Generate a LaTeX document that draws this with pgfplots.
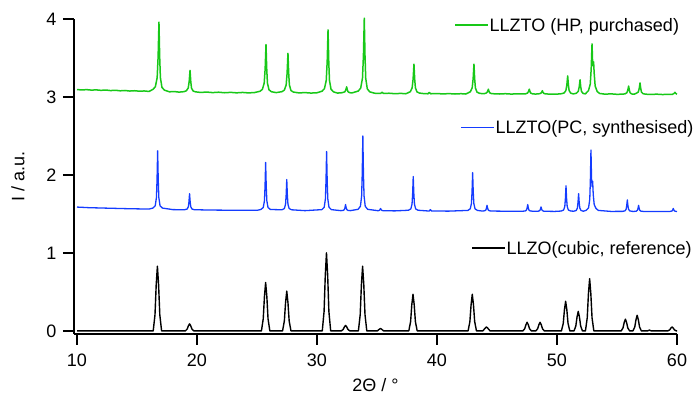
\documentclass[border=0pt]{standalone}
\usepackage{fontspec}
\setmainfont{Liberation Sans}
\usepackage{pgfplots}
\pgfplotsset{compat=1.18}
\definecolor{xgreen}{RGB}{24,200,24}
\definecolor{xblue}{RGB}{20,60,255}
\newcommand{\lf}{\fontsize{18}{21}\selectfont}
\begin{document}
\begin{tikzpicture}
\path (0,0) rectangle (697pt,396pt);
\begin{axis}[
 at={(74pt,62pt)}, anchor=south west,
 scale only axis, width=603pt, height=315pt,
 xmin=9.75, xmax=60, ymin=-0.04, ymax=4,
 clip=false,
 axis x line=bottom, axis y line=left,
 axis line style={-, line width=1.6pt},
 tick style={black, line width=1.4pt},
 tick align=outside, major tick length=11pt,
 xtick={10,20,...,60}, ytick={0,1,2,3,4},
 minor tick num=0,
 tick label style={font=\lf},
 /pgf/number format/assume math mode=true,
 xticklabel style={yshift=-5pt},
 yticklabel style={xshift=-3pt},
 xlabel={2Θ / °}, ylabel={I / a.u.},
 label style={font=\lf},
 xlabel style={at={(axis description cs:0.5,-0.181)}, anchor=base},
 ylabel style={at={(axis description cs:-0.0929,0.5)}, anchor=center},
]
\addplot[black, line width=1.4pt, line join=round] coordinates {
(10,0)
(16.35,0)(16.50,0.208)(16.60,0.589)(16.70,0.83)(16.80,0.589)(16.90,0.208)(17.05,0)
(19.03,0)(19.18,0.023)(19.28,0.064)(19.38,0.09)(19.48,0.064)(19.58,0.023)(19.73,0)
(25.37,0)(25.52,0.155)(25.62,0.440)(25.72,0.62)(25.82,0.440)(25.92,0.155)(26.07,0)
(27.13,0)(27.28,0.128)(27.38,0.362)(27.48,0.51)(27.58,0.362)(27.68,0.128)(27.83,0)
(30.44,0)(30.59,0.25)(30.69,0.71)(30.79,1.00)(30.89,0.71)(30.99,0.25)(31.14,0)
(32.03,0)(32.18,0.018)(32.28,0.050)(32.38,0.07)(32.48,0.050)(32.58,0.018)(32.73,0)
(33.45,0)(33.60,0.208)(33.70,0.589)(33.80,0.83)(33.90,0.589)(34.00,0.208)(34.15,0)
(35.04,0)(35.19,0.021)(35.29,0.03)(35.39,0.021)(35.54,0)
(37.65,0)(37.80,0.118)(37.90,0.334)(38.00,0.47)(38.10,0.334)(38.20,0.118)(38.35,0)
(42.59,0)(42.74,0.118)(42.84,0.334)(42.94,0.47)(43.04,0.334)(43.14,0.118)(43.29,0)
(43.82,0)(44.02,0.036)(44.12,0.05)(44.22,0.036)(44.42,0)
(47.16,0)(47.31,0.028)(47.41,0.078)(47.51,0.11)(47.61,0.078)(47.71,0.028)(47.86,0)
(48.24,0)(48.39,0.028)(48.49,0.078)(48.59,0.11)(48.69,0.078)(48.79,0.028)(48.94,0)
(50.37,0)(50.52,0.095)(50.62,0.270)(50.72,0.38)(50.82,0.270)(50.92,0.095)(51.07,0)
(51.42,0)(51.57,0.063)(51.67,0.178)(51.77,0.25)(51.87,0.178)(51.97,0.063)(52.12,0)
(52.37,0)(52.52,0.168)(52.62,0.476)(52.72,0.67)(52.82,0.476)(52.92,0.168)(53.07,0)
(55.35,0)(55.50,0.038)(55.60,0.107)(55.70,0.15)(55.80,0.107)(55.90,0.038)(56.05,0)
(56.33,0)(56.48,0.05)(56.58,0.142)(56.68,0.20)(56.78,0.142)(56.88,0.05)(57.03,0)
(57.55,0)(57.70,0.01)(57.85,0)
(59.24,0)(59.39,0.013)(59.49,0.036)(59.59,0.05)(59.69,0.036)(59.79,0.013)(59.94,0)
(60,0)
};
\addplot[xblue, line width=1.3pt, line join=round] coordinates {
(10.0,1.588)(11,1.58)(12,1.576)(13,1.572)(14,1.568)(15,1.565)(16,1.562)
(16.32,1.575)(16.52,1.605)(16.62,1.71)(16.67,1.935)(16.72,2.31)(16.77,1.935)(16.82,1.71)(16.92,1.605)(17.12,1.575)
(18,1.555)
(18.98,1.554)(19.18,1.563)(19.28,1.592)(19.33,1.655)(19.38,1.76)(19.43,1.655)(19.48,1.592)(19.58,1.563)(19.78,1.554)
(21,1.55)(23,1.547)(25,1.546)
(25.32,1.557)(25.52,1.582)(25.62,1.668)(25.67,1.853)(25.72,2.16)(25.77,1.853)(25.82,1.668)(25.92,1.582)(26.12,1.557)
(27.08,1.553)(27.28,1.569)(27.38,1.624)(27.43,1.743)(27.48,1.94)(27.53,1.743)(27.58,1.624)(27.68,1.569)(27.88,1.553)
(29,1.542)
(30.40,1.555)(30.60,1.586)(30.70,1.692)(30.75,1.92)(30.80,2.30)(30.85,1.92)(30.90,1.692)(31.00,1.586)(31.20,1.555)
(31.98,1.542)(32.18,1.545)(32.28,1.556)(32.33,1.58)(32.38,1.62)(32.43,1.58)(32.48,1.556)(32.58,1.545)(32.78,1.542)
(33.42,1.559)(33.62,1.598)(33.72,1.732)(33.77,2.02)(33.82,2.50)(33.87,2.02)(33.92,1.732)(34.02,1.598)(34.22,1.559)
(35.10,1.541)(35.20,1.546)(35.25,1.555)(35.30,1.57)(35.35,1.555)(35.40,1.546)(35.50,1.541)
(36.5,1.539)
(37.62,1.547)(37.82,1.565)(37.92,1.626)(37.97,1.759)(38.02,1.98)(38.07,1.759)(38.12,1.626)(38.22,1.565)(38.42,1.547)
(39.35,1.537)(39.45,1.555)(39.55,1.537)
(41,1.536)
(42.57,1.545)(42.77,1.565)(42.87,1.634)(42.92,1.783)(42.97,2.03)(43.02,1.783)(43.07,1.634)(43.17,1.565)(43.37,1.545)
(43.77,1.537)(43.97,1.54)(44.07,1.55)(44.12,1.573)(44.17,1.61)(44.22,1.573)(44.27,1.55)(44.37,1.54)(44.57,1.537)
(46,1.534)
(47.16,1.535)(47.36,1.538)(47.46,1.55)(47.51,1.577)(47.56,1.62)(47.61,1.577)(47.66,1.55)(47.76,1.538)(47.96,1.535)
(48.27,1.534)(48.47,1.536)(48.57,1.544)(48.62,1.562)(48.67,1.59)(48.72,1.562)(48.77,1.544)(48.87,1.536)(49.07,1.534)
(49.8,1.532)
(50.35,1.537)(50.55,1.55)(50.65,1.596)(50.70,1.695)(50.75,1.86)(50.80,1.695)(50.85,1.596)(50.95,1.55)(51.15,1.537)
(51.40,1.535)(51.60,1.544)(51.70,1.576)(51.75,1.645)(51.80,1.76)(51.85,1.645)(51.90,1.576)(52.00,1.544)(52.20,1.535)
(52.43,1.546)(52.63,1.577)(52.73,1.688)(52.78,1.925)(52.83,2.32)(52.88,1.95)(52.93,1.85)(52.97,1.92)(53.02,1.75)(53.10,1.62)(53.25,1.57)(53.45,1.545)
(54.5,1.532)
(55.46,1.533)(55.66,1.539)(55.76,1.56)(55.81,1.605)(55.86,1.68)(55.91,1.605)(55.96,1.56)(56.06,1.539)(56.26,1.533)
(56.40,1.532)(56.60,1.535)(56.70,1.546)(56.75,1.57)(56.80,1.61)(56.85,1.57)(56.90,1.546)(57.00,1.535)(57.20,1.532)
(58.5,1.53)
(59.39,1.531)(59.59,1.538)(59.64,1.55)(59.69,1.57)(59.74,1.55)(59.79,1.538)(59.95,1.531)(60,1.53)
};
\addplot[xgreen, line width=1.5pt, line join=round] coordinates {
(10,3.095)(10.4,3.09)(10.8,3.094)(11.2,3.088)(11.6,3.091)(12,3.085)(12.4,3.089)(12.8,3.082)(13.2,3.086)(13.6,3.079)(14,3.083)(14.4,3.076)(14.8,3.08)(15.2,3.074)(15.6,3.077)(16,3.071)
(16.33,3.097)(16.53,3.132)(16.68,3.248)(16.76,3.515)(16.83,3.96)(16.89,3.515)(16.95,3.248)(17.08,3.123)(17.28,3.088)
(17.7,3.066)(18.1,3.07)(18.5,3.062)
(18.92,3.068)(19.12,3.08)(19.27,3.116)(19.35,3.20)(19.42,3.34)(19.48,3.20)(19.54,3.116)(19.67,3.077)(19.87,3.066)
(20.3,3.058)(20.8,3.063)(21.3,3.056)(21.8,3.061)(22.3,3.054)(22.8,3.059)(23.3,3.053)(23.8,3.058)(24.3,3.052)(24.8,3.057)
(25.25,3.073)(25.45,3.098)(25.60,3.178)(25.68,3.363)(25.75,3.67)(25.81,3.363)(25.87,3.178)(26.00,3.092)(26.20,3.067)
(26.6,3.056)
(27.08,3.068)(27.28,3.088)(27.43,3.154)(27.51,3.307)(27.58,3.56)(27.64,3.307)(27.70,3.154)(27.83,3.083)(28.03,3.063)
(28.5,3.052)(29.0,3.056)(29.5,3.05)(30.0,3.054)
(30.42,3.074)(30.62,3.107)(30.77,3.212)(30.85,3.455)(30.92,3.86)(30.98,3.455)(31.04,3.212)(31.17,3.099)(31.37,3.066)
(31.7,3.05)(32.0,3.053)
(32.12,3.056)(32.32,3.066)(32.40,3.09)(32.47,3.13)(32.53,3.09)(32.59,3.066)(32.72,3.055)(32.92,3.052)
(33.44,3.076)(33.64,3.114)(33.79,3.240)(33.87,3.529)(33.94,4.01)(34.00,3.529)(34.06,3.240)(34.19,3.105)(34.39,3.066)
(34.8,3.048)(35.3,3.045)(35.42,3.06)(35.55,3.045)(36.0,3.048)(36.5,3.042)(37.0,3.046)(37.4,3.041)
(37.58,3.053)(37.78,3.068)(37.93,3.118)(38.01,3.231)(38.08,3.42)(38.14,3.231)(38.20,3.118)(38.33,3.065)(38.53,3.05)
(38.9,3.043)(39.25,3.041)(39.36,3.058)(39.48,3.041)(40.0,3.044)(40.5,3.039)(41.0,3.043)(41.5,3.038)(42.0,3.042)(42.4,3.038)
(42.58,3.051)(42.78,3.067)(42.93,3.116)(43.01,3.23)(43.08,3.42)(43.14,3.23)(43.20,3.116)(43.33,3.063)(43.53,3.048)
(43.78,3.042)(43.98,3.044)(44.13,3.052)(44.21,3.07)(44.28,3.10)(44.34,3.07)(44.40,3.052)(44.53,3.044)(44.73,3.041)
(45.2,3.038)(45.7,3.042)(46.2,3.037)(46.7,3.041)
(47.19,3.039)(47.39,3.041)(47.54,3.05)(47.62,3.069)(47.69,3.10)(47.75,3.069)(47.81,3.05)(47.94,3.041)(48.14,3.038)
(48.28,3.038)(48.48,3.04)(48.63,3.046)(48.71,3.058)(48.78,3.08)(48.84,3.058)(48.90,3.046)(49.03,3.04)(49.23,3.038)
(49.7,3.035)(50.1,3.038)
(50.39,3.042)(50.59,3.051)(50.74,3.082)(50.82,3.153)(50.89,3.27)(50.95,3.153)(51.01,3.082)(51.14,3.049)(51.34,3.04)
(51.42,3.041)(51.62,3.048)(51.77,3.072)(51.85,3.128)(51.92,3.22)(51.98,3.128)(52.04,3.072)(52.17,3.046)(52.37,3.039)
(52.45,3.054)(52.62,3.08)(52.77,3.164)(52.85,3.36)(52.92,3.68)(52.97,3.42)(53.01,3.40)(53.05,3.45)(53.10,3.30)(53.18,3.14)(53.35,3.07)(53.55,3.045)
(54.0,3.036)(54.5,3.04)(55.0,3.034)
(55.47,3.036)(55.67,3.04)(55.82,3.054)(55.90,3.087)(55.97,3.14)(56.03,3.087)(56.09,3.054)(56.22,3.039)(56.42,3.035)
(56.55,3.043)(56.77,3.062)(56.85,3.107)(56.92,3.18)(56.98,3.107)(57.04,3.062)(57.17,3.042)(57.37,3.036)
(57.8,3.032)(58.3,3.036)(58.8,3.031)(59.2,3.034)(59.6,3.032)(59.75,3.045)(59.83,3.06)(59.9,3.045)(60.0,3.035)
};
\draw[xgreen, line width=1.2pt] (axis cs:41.5,3.923) -- (axis cs:44.25,3.923)
  node[anchor=base west, yshift=-6.4pt, inner sep=1pt, text=black, font=\lf] {LLZTO (HP, purchased)};
\draw[xblue, line width=1.2pt] (axis cs:42.0,2.609) -- (axis cs:44.75,2.609)
  node[anchor=base west, yshift=-6.4pt, inner sep=1pt, text=black, font=\lf] {LLZTO(PC, synthesised)};
\draw[black, line width=1.2pt] (axis cs:42.92,1.064) -- (axis cs:45.67,1.064)
  node[anchor=base west, yshift=-6.4pt, inner sep=1pt, text=black, font=\lf] {LLZO(cubic, reference)};
\end{axis}
\end{tikzpicture}
\end{document}
